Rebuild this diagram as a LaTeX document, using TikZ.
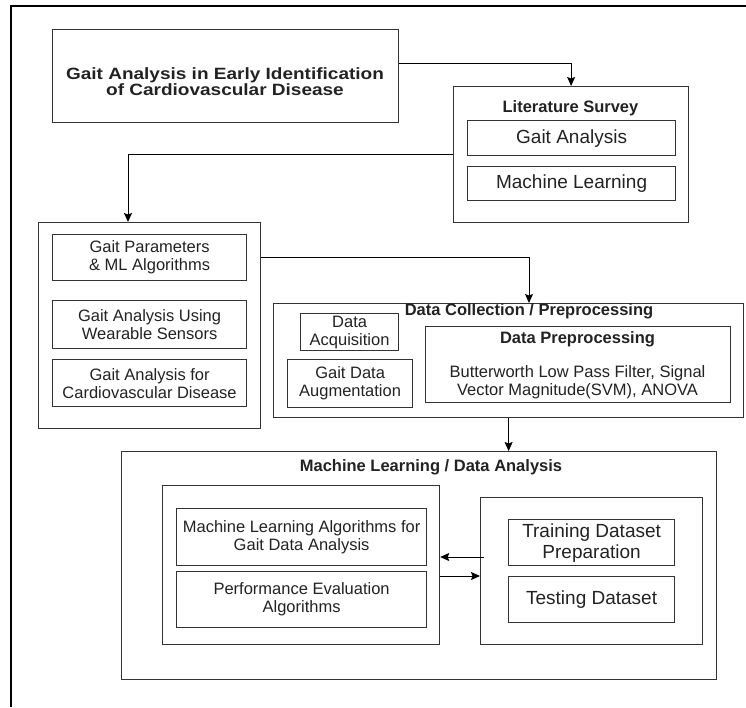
\documentclass[tikz,border=0pt]{standalone}
\usepackage{fontspec}
\setmainfont{Liberation Sans}
\usetikzlibrary{arrows.meta,calc}
\definecolor{ln}{HTML}{333333}
\definecolor{tx}{HTML}{222222}
\tikzset{
  box/.style={draw=ln, line width=1.2pt, rectangle, inner sep=0pt, anchor=north west, align=center, text=tx},
  small/.style={font=\fontsize{16.5}{18}\selectfont},
  big/.style={font=\fontsize{19}{21}\selectfont},
  smallb/.style={font=\fontsize{16.5}{18}\selectfont\bfseries},
  bigb/.style={font=\fontsize{19}{14.3}\selectfont\bfseries},
  lbl/.style={inner sep=0pt, align=center, text=tx},
  arr/.style={draw=black, line width=0.9pt, -{Stealth[length=9pt,width=8pt,inset=1.5pt]}},
}
\begin{document}
\begin{tikzpicture}[x=1pt,y=-1pt]
\useasboundingbox (0,0) rectangle (746,707);
% outer frame
\draw[line width=1.2pt, black] (746,6) -- (11,6) -- (11,707);

% title
\node[box, minimum width=346pt, minimum height=93pt] (title) at (52,29) {};
\node[lbl, bigb, yscale=0.86] (titletext) at (225,82) {Gait Analysis in Early Identification\\of Cardiovascular Disease};

% literature survey
\node[box, minimum width=235pt, minimum height=136pt] (ls) at (453,86) {};
\node[lbl, smallb] (lstitle) at (570.5,108) {Literature Survey};
\node[box, big, minimum width=208pt, minimum height=35pt] (lsga) at (467,120) {Gait Analysis};
\node[box, big, minimum width=208pt, minimum height=34pt] (lsml) at (467,166) {Machine Learning};

% left group
\node[box, minimum width=222pt, minimum height=206pt] (left) at (38,222) {};
\node[box, small, minimum width=194pt, minimum height=46pt] (gp) at (52,234) {Gait Parameters\\\& ML Algorithms};
\node[box, small, minimum width=194pt, minimum height=48pt] (gw) at (52,300) {Gait Analysis Using\\Wearable Sensors};
\node[box, small, minimum width=194pt, minimum height=47pt] (gc) at (52,359) {Gait Analysis for\\Cardiovascular Disease};

% data collection
\node[box, minimum width=470pt, minimum height=114pt] (dc) at (273,303) {};
\node[lbl, smallb] (dctitle) at (529,311) {Data Collection / Preprocessing};
\node[box, small, minimum width=98pt, minimum height=37pt] (da) at (300,313) {Data\\Acquisition};
\node[box, small, minimum width=125pt, minimum height=48pt] (gda) at (287,359) {Gait Data\\Augmentation};
\node[box, minimum width=305pt, minimum height=76pt] (dp) at (425,326) {};
\node[lbl, smallb] (dptitle) at (577.5,339) {Data Preprocessing};
\node[lbl, small] (dptext) at (577.5,382) {Butterworth Low Pass Filter, Signal\\Vector Magnitude(SVM), ANOVA};

% machine learning
\node[box, minimum width=595pt, minimum height=228pt] (ml) at (121,451) {};
\node[lbl, smallb] (mltitle) at (431,467) {Machine Learning / Data Analysis};
\node[box, minimum width=277pt, minimum height=159pt] (mlL) at (162,485) {};
\node[box, small, minimum width=250pt, minimum height=57pt] (mla) at (176,508) {Machine Learning Algorithms for\\Gait Data Analysis};
\node[box, small, minimum width=250pt, minimum height=56pt] (pe) at (176,571) {Performance Evaluation\\Algorithms};
\node[box, minimum width=222pt, minimum height=147pt] (mlR) at (480,497) {};
\node[box, big, minimum width=166pt, minimum height=46pt] (tr) at (508,519) {Training Dataset\\Preparation};
\node[box, big, minimum width=166pt, minimum height=46pt] (te) at (508,576) {Testing Dataset};

% connectors
\draw[arr] ($(title.north east)+(0,34)$) -| (ls.north);
\coordinate (leftin) at ($(left.north west)+(90,0)$);
\draw[arr] (ls.west) -| (leftin);
\coordinate (dcin) at ($(dc.north west)+(256,0)$);
\draw[arr] ($(left.north east)+(0,35)$) -| (dcin);
\draw[arr] (dc.south) -- (dc.south |- ml.north);
\draw[arr] ($(mlR.north west)+(4,60)$) -- ($(mlL.north east)+(0,72)$);
\draw[arr] ($(mlL.north east)+(0,91)$) -- ($(mlR.north west)+(0,79)$);
\end{tikzpicture}
\end{document}
